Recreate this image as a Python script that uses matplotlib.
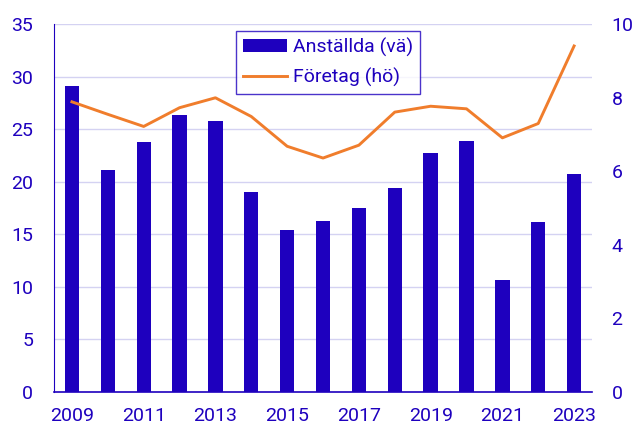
import matplotlib
matplotlib.use("Agg")
import matplotlib.pyplot as plt
import numpy as np

# data
years = [2009, 2010, 2011, 2012, 2013, 2014, 2015, 2016, 2017, 2018, 2019, 2020, 2021, 2022, 2023]
anstallda = [29.1, 21.15, 23.75, 26.4, 25.75, 19.05, 15.45, 16.3, 17.5, 19.4, 22.7, 23.9, 10.6, 16.15, 20.75]
foretag = [7.89, 7.55, 7.22, 7.73, 8.0, 7.49, 6.68, 6.36, 6.71, 7.61, 7.77, 7.70, 6.91, 7.30, 9.41]
xtick_labels = ["2009", "2011", "2013", "2015", "2017", "2019", "2021", "2023"]

BLUE = "#1e00be"
ORANGE = "#f07d2c"
GRID = "#d4d2f2"

plt.rcParams['font.family'] = ['Roboto', 'DejaVu Sans']

fig = plt.figure(figsize=(6.34, 4.28), dpi=100)
ax = fig.add_axes([0.0852, 0.0848, 0.8486, 0.8584])
ax2 = ax.twinx()

x = np.arange(len(years))
bars = ax.bar(x, anstallda, width=0.4, color=BLUE, label="Anställda (vä)", zorder=3)
line, = ax2.plot(x, foretag, color=ORANGE, lw=2.1, label="Företag (hö)", zorder=4)

ax.set_xlim(-0.5, 14.5)
ax.set_ylim(0, 35)
ax.set_yticks(np.arange(0, 36, 5))
ax2.set_ylim(0, 10)
ax2.set_yticks(np.arange(0, 11, 2))

ax.set_xticks([i for i in x if years[i] % 2 == 1])
ax.set_xticklabels(xtick_labels)

ax.grid(axis='y', color=GRID, lw=1.0, zorder=0)
ax.set_axisbelow(True)

for a in (ax, ax2):
    for s in a.spines.values():
        s.set_visible(False)
    a.tick_params(length=0, labelsize=14, colors=BLUE)
ax.spines['left'].set_visible(True)
ax.spines['left'].set_color(BLUE)
ax.spines['bottom'].set_visible(True)
ax.spines['bottom'].set_color(BLUE)
ax.spines['bottom'].set_linewidth(1.2)
ax.tick_params(axis='y', pad=15)
ax.tick_params(axis='x', pad=11)
ax2.tick_params(axis='y', pad=14)

ax.set_zorder(ax2.get_zorder() - 1)
ax.patch.set_visible(False)

leg = ax2.legend([bars, line], ["Anställda (vä)", "Företag (hö)"],
                 loc='upper left', bbox_to_anchor=(0.338, 0.983),
                 fontsize=14, frameon=True, fancybox=False,
                 handlelength=2.3, handletextpad=0.3, borderpad=0.35,
                 labelspacing=0.6, borderaxespad=0)
leg.get_frame().set_edgecolor(BLUE)
leg.get_frame().set_linewidth(1.0)
for t in leg.get_texts():
    t.set_color(BLUE)

fig.savefig("out.png", dpi=100)
